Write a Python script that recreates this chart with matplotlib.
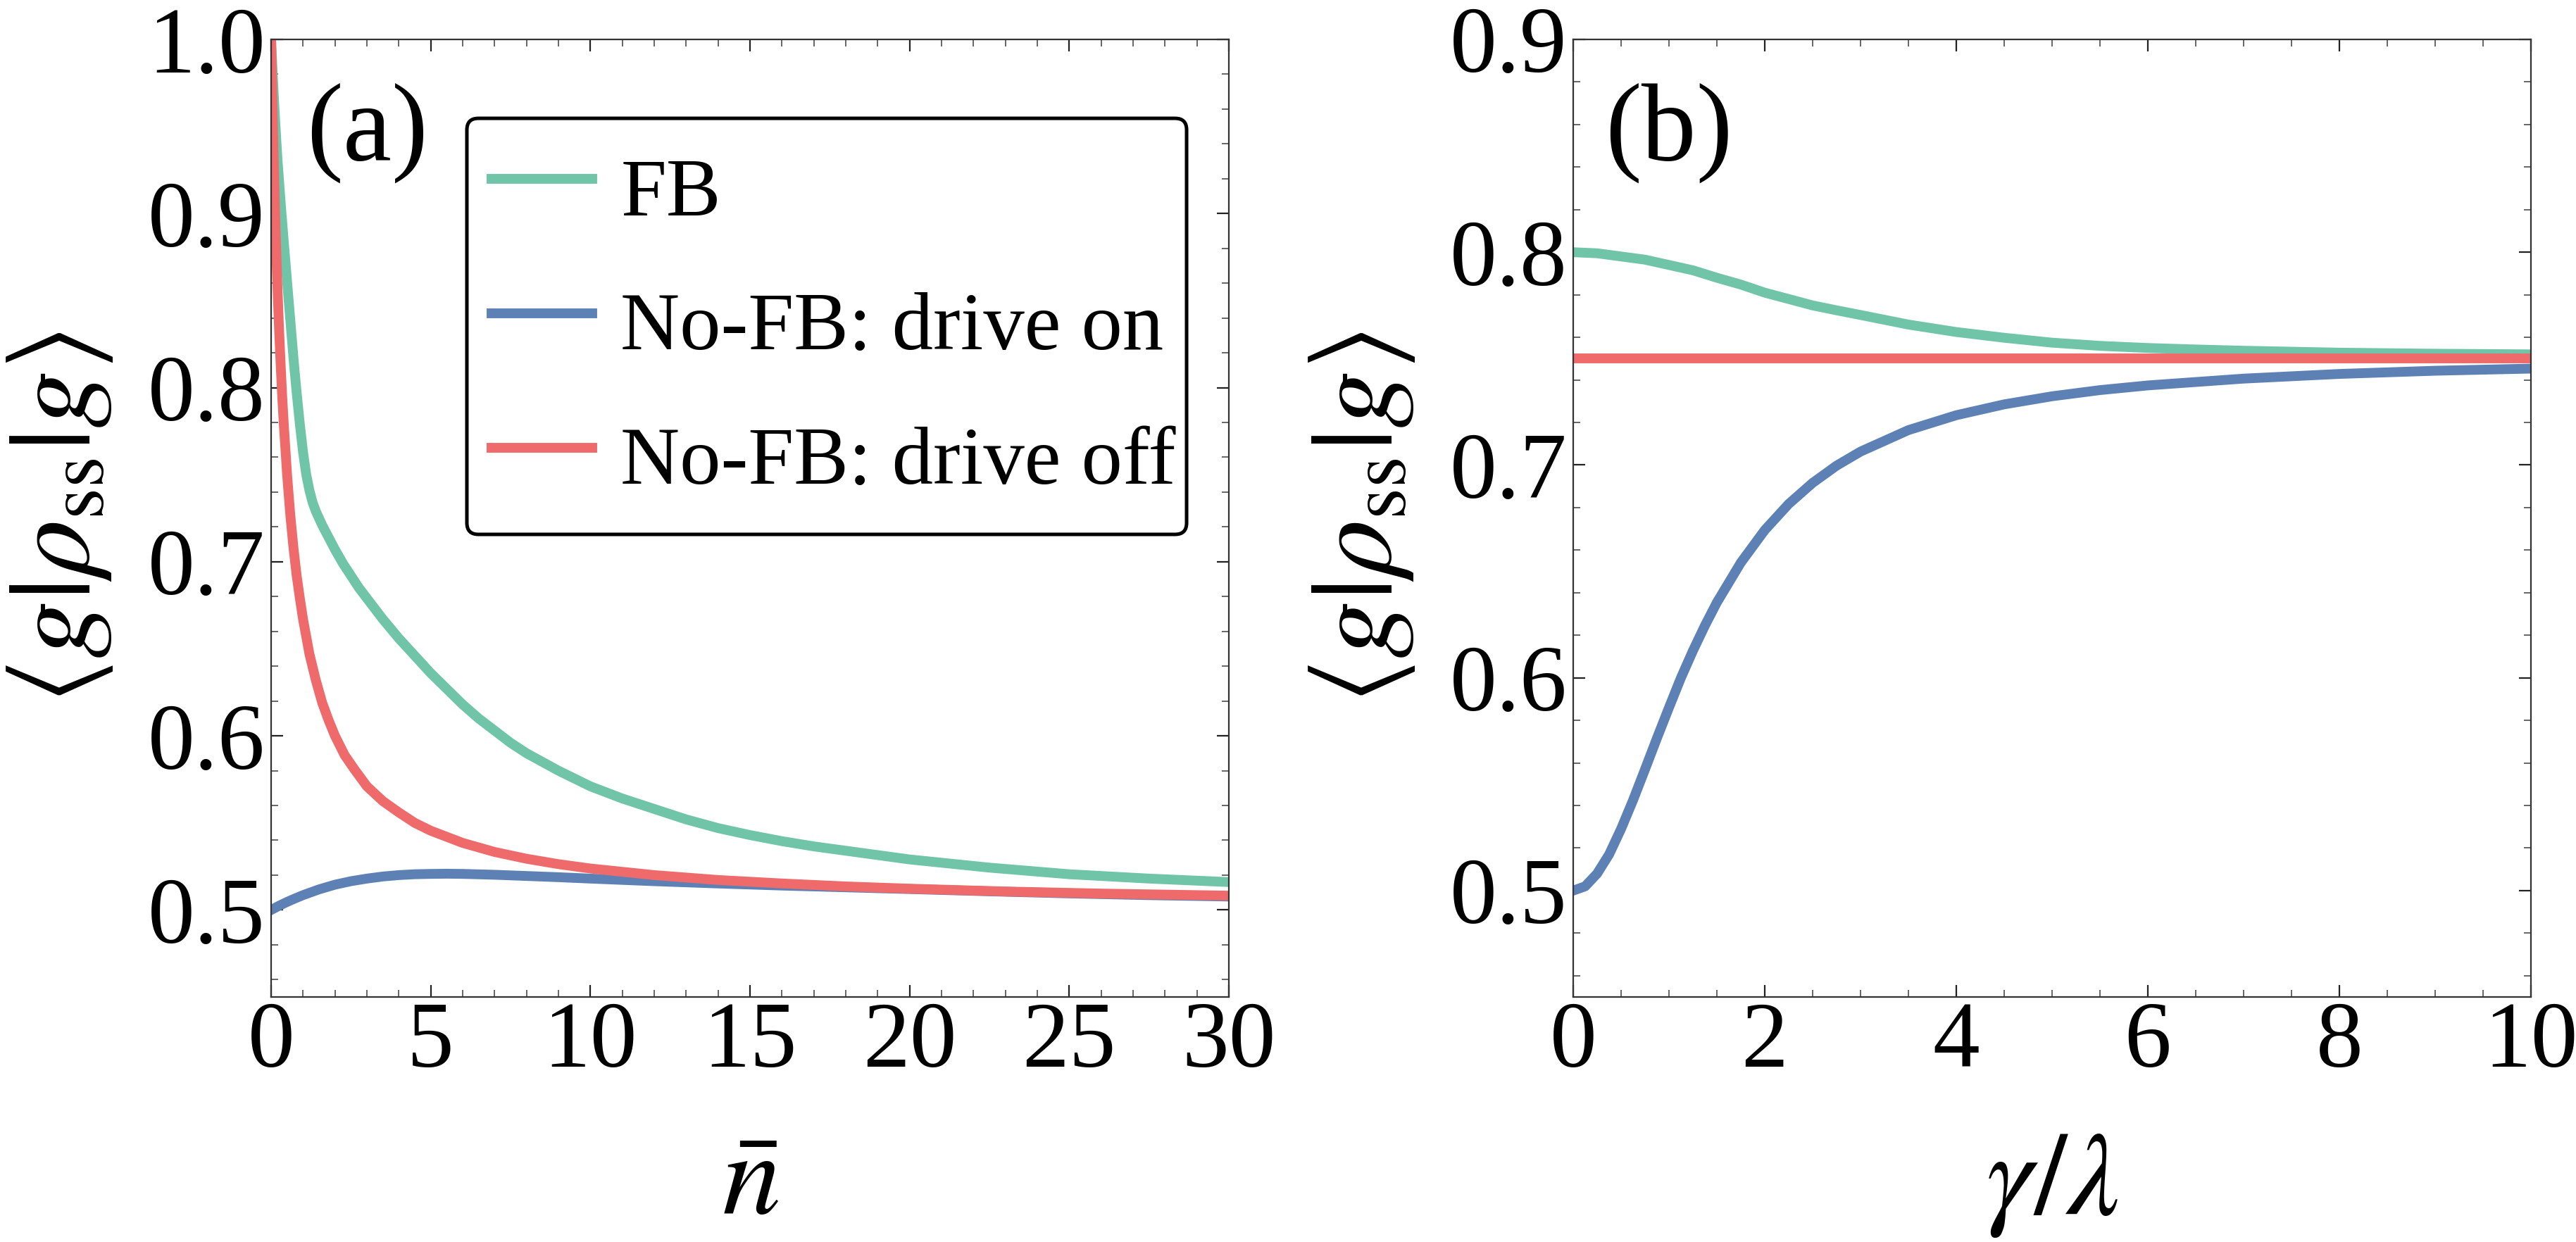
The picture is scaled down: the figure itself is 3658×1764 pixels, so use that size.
import matplotlib
matplotlib.use("Agg")
import matplotlib.pyplot as plt
from matplotlib.patches import FancyBboxPatch
from matplotlib.ticker import MultipleLocator, FormatStrFormatter

plt.rcParams['font.family'] = ['Liberation Serif', 'DejaVu Serif']
plt.rcParams['mathtext.fontset'] = 'stix'

# ---------------- data: panel (a), x = n-bar ----------------
nbar_fb = [0, 0.05, 0.1, 0.15, 0.2, 0.3, 0.4, 0.5, 0.6, 0.7, 0.8, 0.9, 1.0, 1.1, 1.2,
           1.3, 1.4, 1.6, 1.8, 2.0, 2.25, 2.5, 2.75, 3.0, 3.5, 4.0, 4.5, 5.0, 5.5,
           6.0, 6.5, 7.0, 7.5, 8.0, 9.0, 10.0, 11.0, 12.0, 13.0, 14.0, 15.0, 16.0,
           17.0, 18.0, 19.0, 20.0, 22.5, 25.0, 27.5, 30.0]
fb_a = [1.0, 0.98, 0.962, 0.946, 0.931, 0.906, 0.883, 0.861, 0.839, 0.817, 0.797,
        0.779, 0.763, 0.750, 0.741, 0.734, 0.729, 0.721, 0.714, 0.707, 0.699, 0.692,
        0.685, 0.679, 0.667, 0.656, 0.646, 0.636, 0.627, 0.618, 0.610, 0.603, 0.596,
        0.590, 0.580, 0.571, 0.564, 0.558, 0.552, 0.547, 0.543, 0.5395, 0.5365,
        0.534, 0.5315, 0.529, 0.5243, 0.5205, 0.518, 0.516]

nbar_on = [0, 0.25, 0.5, 0.75, 1, 1.5, 2, 2.5, 3, 3.5, 4, 4.5, 5, 5.5, 6, 7, 8, 9, 10,
           12, 14, 16, 18, 20, 22.5, 25, 27.5, 30]
drive_on_a = [0.500, 0.5024, 0.5046, 0.5066, 0.5085, 0.5118, 0.5145, 0.5165, 0.518,
              0.5192, 0.520, 0.5205, 0.5207, 0.5208, 0.5207, 0.5202, 0.5195, 0.5188,
              0.518, 0.5165, 0.5152, 0.514, 0.513, 0.512, 0.5107, 0.5095, 0.5085,
              0.5077]

nbar_off = [0, 0.01, 0.02, 0.035, 0.05, 0.075, 0.1, 0.125, 0.15, 0.2, 0.25, 0.3, 0.35,
            0.4, 0.5, 0.6, 0.7, 0.8, 0.9, 1.0, 1.2, 1.4, 1.6, 1.8, 2.0, 2.3, 2.6, 3.0,
            3.5, 4.0, 4.5, 5.0, 6.0, 7.0, 8.0, 9.0, 10.0, 12.0, 14.0, 16.0, 18.0,
            20.0, 23.0, 26.0, 30.0]
drive_off_a = [1.0, 0.990, 0.981, 0.967, 0.955, 0.935, 0.917, 0.900, 0.885, 0.857,
               0.833, 0.8125, 0.794, 0.778, 0.750, 0.727, 0.708, 0.692, 0.679, 0.667,
               0.647, 0.632, 0.619, 0.609, 0.600, 0.589, 0.581, 0.571, 0.5625, 0.556,
               0.550, 0.5455, 0.5385, 0.5333, 0.5294, 0.5263, 0.5238, 0.520, 0.5172,
               0.5152, 0.5135, 0.5122, 0.5106, 0.5094, 0.5082]

# ---------------- data: panel (b), x = gamma/lambda ----------------
gam_fb = [0, 0.25, 0.5, 0.75, 1.0, 1.25, 1.5, 1.75, 2.0, 2.25, 2.5, 2.75, 3.0, 3.5,
          4.0, 4.5, 5.0, 5.5, 6.0, 6.5, 7.0, 8.0, 9.0, 10.0]
fb_b = [0.800, 0.7995, 0.798, 0.7965, 0.794, 0.7915, 0.788, 0.7848, 0.781, 0.778,
        0.775, 0.7727, 0.7705, 0.766, 0.7625, 0.7598, 0.7575, 0.756, 0.755, 0.7543,
        0.7537, 0.7528, 0.7523, 0.752]

gam_on = [0, 0.125, 0.25, 0.375, 0.5, 0.625, 0.75, 0.875, 1.0, 1.125, 1.25, 1.375,
          1.5, 1.75, 2.0, 2.25, 2.5, 2.75, 3.0, 3.5, 4.0, 4.5, 5.0, 5.5, 6.0, 7.0,
          8.0, 9.0, 10.0]
drive_on_b = [0.500, 0.502, 0.508, 0.517, 0.529, 0.5425, 0.557, 0.5717, 0.586, 0.600,
              0.6127, 0.6245, 0.6354, 0.6541, 0.6694, 0.6817, 0.6916, 0.6997, 0.7063,
              0.7164, 0.7234, 0.7285, 0.7323, 0.7352, 0.7374, 0.7406, 0.7428,
              0.7443, 0.7453]

gam_off = [0, 10]
drive_off_b = [0.75, 0.75]

labels = ["FB", "No-FB: drive on", "No-FB: drive off"]
colors = ["#70C4A8", "#5E81B5", "#EE6A6B"]

# ---------------- figure ----------------
W, H = 3658, 1764
dpi = 200
fig = plt.figure(figsize=(W / dpi, H / dpi), dpi=dpi)

ax_w = (1745 - 385) / W
ax_h = (1416 - 56) / H
ax_b = (H - 1416) / H
axa = fig.add_axes([385 / W, ax_b, ax_w, ax_h])
axb = fig.add_axes([2234 / W, ax_b, ax_w, ax_h])

lw = 5.0
axa.plot(nbar_fb, fb_a, color=colors[0], lw=lw, label=labels[0])
axa.plot(nbar_on, drive_on_a, color=colors[1], lw=lw, label=labels[1])
axa.plot(nbar_off, drive_off_a, color=colors[2], lw=lw, label=labels[2])

axb.plot(gam_fb, fb_b, color=colors[0], lw=lw)
axb.plot(gam_on, drive_on_b, color=colors[1], lw=lw)
axb.plot(gam_off, drive_off_b, color=colors[2], lw=lw)

axa.set_xlim(0, 30)
axa.set_ylim(0.45, 1.0)
axb.set_xlim(0, 10)
axb.set_ylim(0.45, 0.9)

axa.xaxis.set_major_locator(MultipleLocator(5))
axa.xaxis.set_minor_locator(MultipleLocator(1))
axb.xaxis.set_major_locator(MultipleLocator(2))
axb.xaxis.set_minor_locator(MultipleLocator(0.5))
for ax in (axa, axb):
    ax.yaxis.set_major_locator(MultipleLocator(0.1))
    ax.yaxis.set_minor_locator(MultipleLocator(0.02))
    ax.yaxis.set_major_formatter(FormatStrFormatter('%.1f'))
    ax.tick_params(which='both', direction='in', top=True, right=True,
                   labelsize=48, colors='black')
    ax.tick_params(which='major', length=6.2, width=0.8, color='#222222', pad=3)
    ax.tick_params(which='minor', length=3.6, width=0.7, color='#666666')
    ax.tick_params(axis='x', which='major', pad=2)
    for s in ax.spines.values():
        s.set_color('#333333')
        s.set_linewidth(0.8)
    ax.set_ylabel(r'$\langle g|\rho_{\mathrm{ss}}|g\rangle$', fontsize=59)
    ax.yaxis.set_label_coords(-0.163, 0.5)

axa.set_xlabel(r'$\bar{n}$', fontsize=60, va='baseline')
axb.set_xlabel(r'$\gamma/\lambda$', fontsize=60, va='baseline')
axa.xaxis.set_label_coords(0.5, -0.2265)
axb.xaxis.set_label_coords(0.5, -0.2265)

axa.text(0.1007, 0.9015, '(a)', transform=axa.transAxes, fontsize=56,
         ha='center', va='center')
axb.text(0.1, 0.9015, '(b)', transform=axb.transAxes, fontsize=56,
         ha='center', va='center')

# legend box (rounded frame) drawn as a patch in axes coordinates
box_x0, box_y0, box_w, box_h = 0.2044, 0.4831, 0.7515, 0.4345
frame = FancyBboxPatch((box_x0, box_y0), box_w, box_h,
                       boxstyle='round,pad=0,rounding_size=0.012',
                       transform=axa.transAxes, facecolor='white',
                       edgecolor='black', linewidth=1.8, zorder=4)
axa.add_patch(frame)

leg = axa.legend(loc='upper left', bbox_to_anchor=(box_x0, box_y0, box_w, box_h),
                 mode='expand', fontsize=42, frameon=False,
                 handlelength=1.23, handleheight=1.3, handletextpad=0.34,
                 borderpad=0.3, labelspacing=0.54, borderaxespad=0)
leg.set_zorder(5)
for h in leg.get_lines():
    h.set_linewidth(5.0)

fig.savefig('out.png', dpi=dpi)
